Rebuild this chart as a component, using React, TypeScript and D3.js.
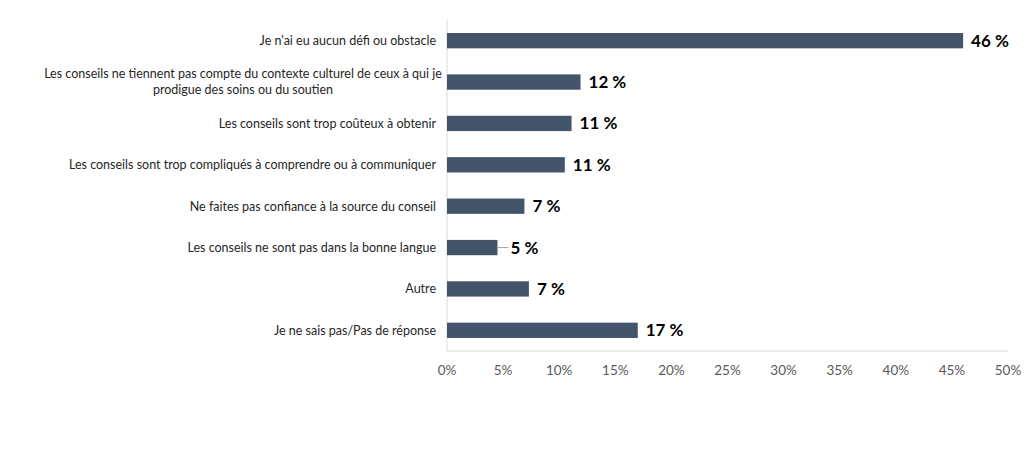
import React from "react";
import * as d3 from "d3";

const categories: string[][] = [
  ["Je n'ai eu aucun défi ou obstacle"],
  ["Les conseils ne tiennent pas compte du contexte culturel de ceux à qui je", "prodigue des soins ou du soutien"],
  ["Les conseils sont trop coûteux à obtenir"],
  ["Les conseils sont trop compliqués à comprendre ou à communiquer"],
  ["Ne faites pas confiance à la source du conseil"],
  ["Les conseils ne sont pas dans la bonne langue"],
  ["Autre"],
  ["Je ne sais pas/Pas de réponse"],
];
const values: number[] = [0.46, 0.119, 0.111, 0.105, 0.069, 0.045, 0.073, 0.17];
const valueLabels: string[] = ["46 %", "12 %", "11 %", "11 %", "7 %", "5 %", "7 %", "17 %"];
const ticks: number[] = [0, 0.05, 0.1, 0.15, 0.2, 0.25, 0.3, 0.35, 0.4, 0.45, 0.5];

export default function App() {
  const W = 1031, H = 454;
  const x = d3.scaleLinear().domain([0, 0.5]).range([447, 1008]);
  const y = d3.scaleBand<number>().domain(d3.range(categories.length)).range([20, 351]).paddingInner(0.63).paddingOuter(0.315);
  const font = "Lato, 'Open Sans', sans-serif";
  return (
    <svg width={W} height={H} style={{ position: "absolute", left: 0, top: 0, background: "#fff" }}>
      <line x1={x(0)} x2={x(0)} y1={20} y2={351} stroke="#d9d9d9" strokeWidth={1} />
      <line x1={x(0)} x2={x(0.5)} y1={351} y2={351} stroke="#d9d9d9" strokeWidth={1} />
      {values.map((v, i) => {
        const yy = y(i)!;
        const cy = yy + y.bandwidth() / 2;
        const lines = categories[i];
        const multi = lines.length > 1;
        const isSmall = v < 0.05;
        const lx = x(v) + (isSmall ? 13 : 8);
        return (
          <g key={i}>
            <rect x={x(0)} y={yy} width={x(v) - x(0)} height={y.bandwidth()} fill="#44546a" />
            {isSmall && <line x1={x(v)} x2={lx - 2} y1={cy} y2={cy} stroke="#a6a6a6" strokeWidth={1} />}
            <text x={lx} y={cy} dy="0.35em" fontFamily={font} fontWeight="bold" fontSize={17} fill="#000">
              {valueLabels[i]}
            </text>
            {lines.map((t, j) => (
              <text
                key={j}
                x={multi ? 243 : 436}
                y={cy + (j - (lines.length - 1) / 2) * 16}
                dy="0.35em"
                textAnchor={multi ? "middle" : "end"}
                fontFamily={font}
                fontSize={12.5}
                fill="#262626"
              >
                {t}
              </text>
            ))}
          </g>
        );
      })}
      {ticks.map((t) => (
        <text key={t} x={x(t)} y={370} dy="0.35em" textAnchor="middle" fontFamily={font} fontSize={13.5} fill="#595959">
          {d3.format(".0%")(t)}
        </text>
      ))}
    </svg>
  );
}
